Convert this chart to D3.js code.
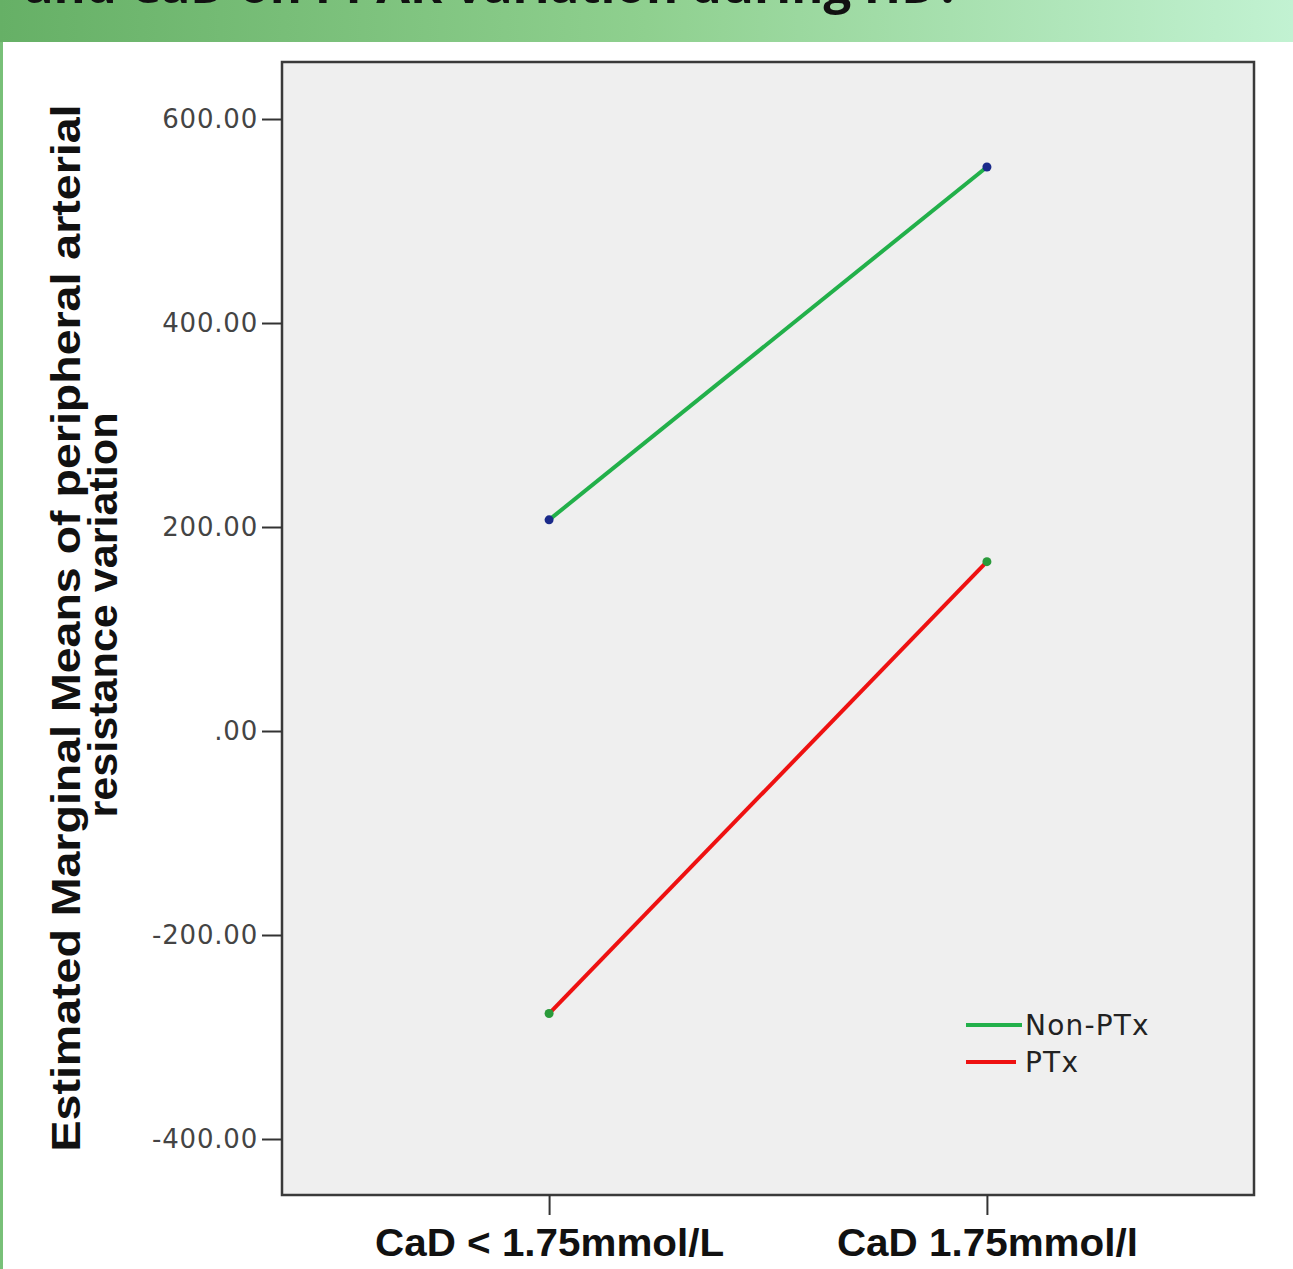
<!DOCTYPE html>
<html><head><meta charset="utf-8">
<script src="https://cdn.jsdelivr.net/npm/d3@7"></script>
<style>html,body{margin:0;padding:0;background:#fff;overflow:hidden}</style>
</head><body>
<script>
const categories = ["CaD < 1.75mmol/L", "CaD 1.75mmol/l"];
const seriesNames = ["Non-PTx", "PTx"];
const nonPTx = [207, 553];
const PTx = [-277, 166];
const yTicks = [-400, -200, 0, 200, 400, 600];
const yTickLabels = ["-400.00", "-200.00", ".00", "200.00", "400.00", "600.00"];
const titleText = "and CaD on PPAR variation during HD?";
const yTitle = ["Estimated Marginal Means of peripheral arterial", "resistance variation"];

const W = 1293, H = 1269;
const svg = d3.select("body").append("svg").attr("width", W).attr("height", H);
const defs = svg.append("defs");
const g = defs.append("linearGradient").attr("id", "ban").attr("x1", 0).attr("x2", 1);
g.append("stop").attr("offset", 0).attr("stop-color", "#66b066");
g.append("stop").attr("offset", 0.5).attr("stop-color", "#8fd08f");
g.append("stop").attr("offset", 1).attr("stop-color", "#c2f2d2");
svg.append("rect").attr("x", 0).attr("y", 0).attr("width", W).attr("height", 42).attr("fill", "url(#ban)");
svg.append("rect").attr("x", 0).attr("y", 42).attr("width", 3).attr("height", H - 42).attr("fill", "#78c078");
svg.append("text").attr("x", 24).attr("y", 3).attr("font-family", "Open Sans").attr("font-weight", "bold")
  .attr("font-size", 49).attr("fill", "#111").text(titleText);

const L = 282, R = 1254, T = 62, B = 1195;
const x = d3.scalePoint().domain(categories).range([L, R]).padding(0.61);
const y = d3.scaleLinear().domain([-454.9, 655.9]).range([B, T]);

svg.append("rect").attr("x", L).attr("y", T).attr("width", R - L).attr("height", B - T)
  .attr("fill", "#efefef").attr("stroke", "#3a3a3a").attr("stroke-width", 2.5);

// y axis
const ya = svg.append("g").attr("transform", `translate(${L},0)`)
  .call(d3.axisLeft(y).tickValues(yTicks).tickSize(20).tickPadding(4).tickFormat((d, i) => yTickLabels[i]));
ya.select(".domain").remove();
ya.selectAll("line").attr("stroke", "#333").attr("stroke-width", 2);
ya.selectAll("text").attr("font-family", "DejaVu Sans").attr("font-size", 26).attr("letter-spacing", 0.8).attr("fill", "#444");

// x axis
const xLens = [349, 301];
const xa = svg.append("g").attr("transform", `translate(0,${B})`)
  .call(d3.axisBottom(x).tickSize(20).tickPadding(14));
xa.select(".domain").remove();
xa.selectAll("line").attr("stroke", "#333").attr("stroke-width", 2);
xa.selectAll("text").attr("font-family", "Liberation Sans").attr("font-weight", "bold")
  .attr("font-size", 38).attr("fill", "#111").attr("dy", "0.71em")
  .attr("textLength", (d, i) => xLens[i]).attr("lengthAdjust", "spacingAndGlyphs");

// y title
svg.append("text").attr("transform", "translate(80,628) rotate(-90)")
  .attr("text-anchor", "middle").attr("font-family", "Liberation Sans")
  .attr("font-weight", "bold").attr("font-size", 40).attr("fill", "#111")
  .attr("textLength", 1047).attr("lengthAdjust", "spacingAndGlyphs").text(yTitle[0]);
svg.append("text").attr("transform", "translate(117,615) rotate(-90)")
  .attr("text-anchor", "middle").attr("font-family", "Liberation Sans")
  .attr("font-weight", "bold").attr("font-size", 40).attr("fill", "#111")
  .attr("textLength", 405).attr("lengthAdjust", "spacingAndGlyphs").text(yTitle[1]);

const series = [
  {name: seriesNames[0], vals: nonPTx, color: "#22b04a", dot: "#1a2a8a"},
  {name: seriesNames[1], vals: PTx, color: "#ee1111", dot: "#2a9a3a"}
];
const line = d3.line().x((d, i) => x(categories[i])).y(d => y(d));
series.forEach(s => {
  svg.append("path").datum(s.vals).attr("d", line).attr("fill", "none")
    .attr("stroke", s.color).attr("stroke-width", 4);
  svg.selectAll(null).data(s.vals).enter().append("circle")
    .attr("cx", (d, i) => x(categories[i])).attr("cy", d => y(d)).attr("r", 4.5).attr("fill", s.dot);
});

// legend
const leg = svg.append("g");
series.forEach((s, i) => {
  const ly = 1025 + i * 37;
  leg.append("line").attr("x1", 966).attr("x2", i === 0 ? 1022 : 1016).attr("y1", ly).attr("y2", ly)
    .attr("stroke", s.color).attr("stroke-width", 4);
  leg.append("text").attr("x", 1025).attr("y", ly).attr("dy", "0.35em").attr("font-family", "DejaVu Sans")
    .attr("font-size", 28).attr("letter-spacing", 1.2).attr("fill", "#222").text(s.name);
});
</script>
</body></html>
